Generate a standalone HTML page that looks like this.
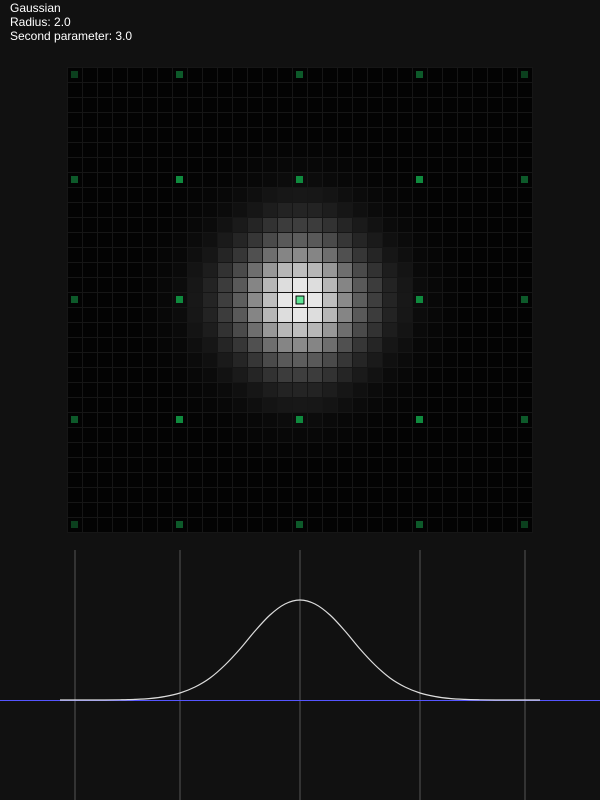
<!DOCTYPE html>
<html><head><meta charset="utf-8"><style>
body{margin:0;background:#111;width:600px;height:800px;overflow:hidden;font-family:"Liberation Sans",sans-serif}
#info{position:absolute;left:10px;top:1px;color:#fff;font-size:12px;line-height:14px}
svg{position:absolute;left:0;top:0}
</style></head><body>
<div id="info">
<div>Gaussian</div>
<div>Radius: 2.0</div>
<div>Second parameter: 3.0</div>
</div>
<svg id="s" width="600" height="800"></svg>
<script>
// cell shade by offset from center (0..15)
const cellShade=[1,0.96,0.79,0.57,0.38,0.25,0.14,0.09,0.04,0.02,0.01,0,0,0,0,0];
// 1D profile by offset from center (0..15)
const profile=[1,0.96,0.85,0.69,0.51,0.35,0.22,0.13,0.07,0.035,0.015,0.006,0.002,0,0,0];
const markerCells=[0,7,15,23,30];
const N=31, cell=15, gx=67.5, gy=67.5;
const NS="http://www.w3.org/2000/svg";
const s=document.getElementById('s');
function mk(t,a){const e=document.createElementNS(NS,t);for(const k in a)e.setAttribute(k,a[k]);s.appendChild(e);return e;}
function sh(d){d=Math.abs(d);return d<cellShade.length?cellShade[d]:0;}
function pr(d){d=Math.abs(d);return d<profile.length?profile[d]:0;}
const xc=i=>gx+i*cell, yc=j=>gy+j*cell;
let bg=mk('rect',{x:gx,y:gy,width:N*cell,height:N*cell,fill:'#030303'});


for(let i=0;i<N;i++)for(let j=0;j<N;j++){
  const v=sh(i-15)*sh(j-15);
  if(v<=0.003)continue;
  const c=Math.round(3+237*v);
  const r=mk('rect',{x:xc(i),y:yc(j),width:cell,height:cell,fill:`rgb(${c},${c},${c})`});
  
  
}
for(let i=0;i<=N;i++){
  mk('line',{x1:xc(i),y1:gy,x2:xc(i),y2:gy+N*cell,stroke:'#161616','stroke-width':1});
  mk('line',{x1:gx,y1:yc(i),x2:gx+N*cell,y2:yc(i),stroke:'#161616','stroke-width':1});
}
for(const i of markerCells)for(const j of markerCells){
  const cx=xc(i)+7.5, cy=yc(j)+7.5;
  if(i===15&&j===15){
    mk('rect',{x:cx-5,y:cy-5,width:10,height:10,fill:'#fff'});
    const m=mk('rect',{x:cx-4,y:cy-4,width:8,height:8,fill:'#5fe596',stroke:'#000','stroke-width':1});
    
    
    continue;
  }
  const a=Math.abs(i-15), b=Math.abs(j-15);
  const col=(a>=15&&b>=15)?'#0b3f1d':((a>=15||b>=15)?'#0d5a2a':'#0f8a3e');
  const m=mk('rect',{x:cx-4,y:cy-4,width:7,height:7,fill:col});
  
  
}
// profile plot
const base=700, peak=600, cx0=300;
for(const i of markerCells){
  const x=xc(i)+7.5;
  const l=mk('line',{x1:x,y1:550,x2:x,y2:800,stroke:'#555','stroke-width':1});
  
  
}
const xs=v=>cx0+v*cell, ys=v=>base-(base-peak)*v;
const pts=[];
for(let k=-15;k<=15;k++)pts.push([xs(k),ys(pr(k))]);
let d=`M${xs(-16)},${base}L${pts[0][0]},${pts[0][1]}`;
for(let i=0;i<pts.length-1;i++){
  const p0=pts[Math.max(0,i-1)],p1=pts[i],p2=pts[i+1],p3=pts[Math.min(pts.length-1,i+2)];
  d+=`C${p1[0]+(p2[0]-p0[0])/6},${p1[1]+(p2[1]-p0[1])/6} ${p2[0]-(p3[0]-p1[0])/6},${p2[1]-(p3[1]-p1[1])/6} ${p2[0]},${p2[1]}`;
}
d+=`L${xs(16)},${base}`;
const bl=mk('line',{x1:0,y1:base+0.5,x2:600,y2:base+0.5,stroke:'#5555ff','stroke-width':1});


const c=mk('path',{d:d,fill:'none',stroke:'#ddd','stroke-width':1.2});


</script>
</body></html>
